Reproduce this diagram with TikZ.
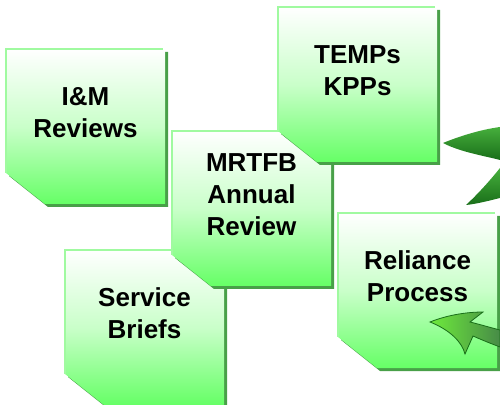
\documentclass[tikz,border=0pt]{standalone}
\usepackage{fontspec}
\setmainfont{Liberation Sans}
\usetikzlibrary{calc}

\definecolor{cardgreen}{RGB}{102,255,102}
\definecolor{shadowgreen}{RGB}{72,160,72}
\definecolor{edgegreen}{RGB}{160,250,160}
\definecolor{leafdark}{RGB}{25,110,25}
\definecolor{leaflight}{RGB}{70,175,60}
\definecolor{headlight}{RGB}{110,235,60}

\begin{document}
\begin{tikzpicture}[
  x=1pt, y=1pt,
  cardshade/.style={top color=white, bottom color=cardgreen, middle color=cardgreen!35!white},
  cardshadow/.style={fill=shadowgreen},
  cardedge/.style={draw=edgegreen, line width=2.5pt},
  cardtext/.style={font=\fontsize{26}{32}\selectfont\bfseries, align=center, inner sep=0},
  leaf/.style={top color=leaflight, bottom color=leafdark},
  arrowhead/.style={left color=headlight, right color=leafdark!80, draw=leafdark, line width=0.8pt},
  ]

  \useasboundingbox (0,0) rectangle (500,404);

  % cards, back to front
  \foreach \x/\y/\name/\txt in {
      6/355/imm/{I\&M\\Reviews},
      65/154/briefs/{Service\\Briefs},
      172/273/mrtfb/{MRTFB\\Annual\\Review},
      278/397/temps/{TEMPs\\KPPs},
      338/191/reliance/{Reliance\\Process}%
    } {
      \begin{scope}[shift={(\x,\y)}]
        \fill[cardshadow] (3,-3) -- ++(159,0) -- ++(0,-155) -- ++(-120,0) -- ++(-39,31) -- cycle;
        \shade[cardshade] (0,0) -- ++(159,0) -- ++(0,-155) -- ++(-120,0) -- ++(-39,31) -- cycle;
        \draw[cardedge] (0,-124) -- (0,0) -- (157,0);
        \node[cardtext] (\name) at (79.5,-63.5) {\txt};
      \end{scope}
    }

  % cycle arrow pieces on the right
  \shade[leaf] (443,261) .. controls (465,270) and (485,275) .. (500,277)
    -- (500,244) .. controls (485,248) and (460,252) .. cycle;
  \shade[leaf] (466,199) .. controls (480,212) and (492,226) .. (500,236)
    -- (500,206) .. controls (488,203) and (476,200) .. cycle;
  \shade[arrowhead] (430,82) .. controls (450,90) and (470,92) .. (483,92)
    -- (470,82) .. controls (482,79) and (492,76) .. (500,74)
    -- (500,57) .. controls (492,60) and (482,64) .. (473,68)
    -- (465,50) .. controls (462,62) and (450,74) .. cycle;

\end{tikzpicture}
\end{document}
